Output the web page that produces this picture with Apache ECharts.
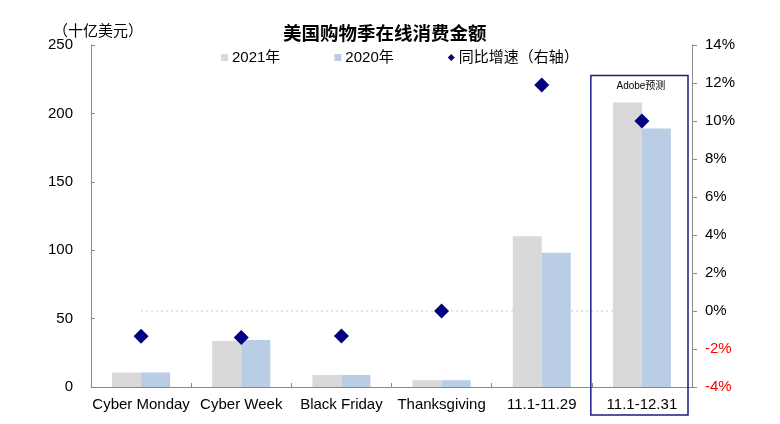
<!DOCTYPE html>
<html>
<head>
<meta charset="utf-8">
<script src="https://cdn.jsdelivr.net/npm/echarts@6/dist/echarts.min.js"></script>
<style>
html,body{margin:0;padding:0;background:#fff;}
#chart{width:780px;height:424px;}
</style>
</head>
<body>
<div id="chart"></div>
<script>
var categories = ['Cyber Monday', 'Cyber Week', 'Black Friday', 'Thanksgiving', '11.1-11.29', '11.1-12.31'];
var sales2021 = [10.6, 33.7, 8.8, 5.0, 110.2, 208];
var sales2020 = [10.6, 34.3, 8.8, 5.0, 98.2, 189];
var growthYoY = [-1.33, -1.4, -1.32, 0, 11.9, 10.0];
var zeroRef = [0, 0, 0, 0, 0, 0];
var leftTicks = {min: 0, max: 250, interval: 50};
var rightTicks = {min: -4, max: 14, interval: 2};

var FONT = '"Liberation Sans", Arial, "Noto Sans CJK SC", sans-serif';
var CJK = '"Noto Sans CJK SC", "Liberation Sans", sans-serif';
var axisGray = '#898989';

var chart = echarts.init(document.getElementById('chart'), null, {renderer: 'canvas'});
var option = {
  animation: false,
  textStyle: {fontFamily: FONT, color: '#000'},
  title: [
    {text: '美国购物季在线消费金额', left: 278, top: 19,
     textStyle: {fontFamily: CJK, fontSize: 18.5, fontWeight: 'bold', color: '#000'}},
    {text: '（十亿美元）', left: 48, top: 18,
     textStyle: {fontFamily: CJK, fontSize: 15, fontWeight: 'normal', color: '#000'}}
  ],
  legend: {
    data: [
      {name: '2021年', icon: 'rect'},
      {name: '2020年', icon: 'rect'},
      {name: '同比增速（右轴）', icon: 'diamond'}
    ],
    left: 216, top: 45,
    itemWidth: 7, itemHeight: 7, itemGap: 54,
    textStyle: {fontFamily: FONT, fontSize: 15, color: '#000', padding: [0, 0, 0, -1]}
  },
  grid: {left: 91, right: 88, top: 45, bottom: 37, containLabel: false},
  xAxis: {
    type: 'category',
    data: categories,
    axisLine: {lineStyle: {color: axisGray, width: 1}},
    axisTick: {show: true, inside: true, length: 4, lineStyle: {color: axisGray}},
    axisLabel: {fontFamily: FONT, fontSize: 15, color: '#000', margin: 10, interval: 0}
  },
  yAxis: [
    {
      type: 'value', min: leftTicks.min, max: leftTicks.max, interval: leftTicks.interval,
      axisLine: {show: true, lineStyle: {color: axisGray}},
      axisTick: {show: true, inside: true, length: 4, lineStyle: {color: axisGray}},
      splitLine: {show: false},
      axisLabel: {fontFamily: FONT, fontSize: 15, color: '#000', margin: 18}
    },
    {
      type: 'value', min: rightTicks.min, max: rightTicks.max, interval: rightTicks.interval,
      position: 'right',
      axisLine: {show: true, lineStyle: {color: axisGray}},
      axisTick: {show: true, inside: false, length: 5, lineStyle: {color: axisGray}},
      splitLine: {show: false},
      axisLabel: {
        fontFamily: FONT, fontSize: 15, margin: 13,
        formatter: function (v) { return v + '%'; },
        color: function (v) { return Number(v) < 0 ? '#FF0000' : '#000'; }
      }
    }
  ],
  series: [
    {
      name: 'zero', type: 'line', yAxisIndex: 1, data: zeroRef,
      symbol: 'none', silent: true, z: 1,
      lineStyle: {color: '#C8C8C8', width: 1.2, type: [2, 3]}
    },
    {
      name: '2021年', type: 'bar', data: sales2021, barWidth: 29, barGap: '0%', z: 2,
      itemStyle: {color: '#D9D9D9'}
    },
    {
      name: '2020年', type: 'bar', data: sales2020, barWidth: 29, z: 2,
      itemStyle: {color: '#B9CDE5'}
    },
    {
      name: '同比增速（右轴）', type: 'scatter', yAxisIndex: 1, data: growthYoY,
      symbol: 'diamond', symbolSize: 15, z: 5,
      itemStyle: {color: '#000080', opacity: 1}
    }
  ]
};
chart.setOption(option);

// annotation box around the last category (Adobe forecast)
var lastIdx = categories.length - 1;
var cx = chart.convertToPixel({xAxisIndex: 0}, categories[lastIdx]);
var prevX = chart.convertToPixel({xAxisIndex: 0}, categories[lastIdx - 1]);
var band = cx - prevX;
var topY = chart.convertToPixel({yAxisIndex: 1}, 12.4);
var baseY = chart.convertToPixel({yAxisIndex: 0}, 0);
var x0 = cx - band / 2 - 1;
var x1 = cx + band / 2 - 4;
chart.setOption({
  graphic: [
    {type: 'rect', z: 10,
     shape: {x: x0, y: topY, width: x1 - x0, height: baseY + 28 - topY},
     style: {fill: 'none', stroke: '#1A1A8C', lineWidth: 1.5}},
    {type: 'text', z: 10, x: cx - 1, y: topY + 11,
     style: {text: 'Adobe预测', fill: '#000', fontFamily: FONT, fontSize: 10,
             textAlign: 'center', textVerticalAlign: 'middle'}}
  ]
});
</script>
</body>
</html>
